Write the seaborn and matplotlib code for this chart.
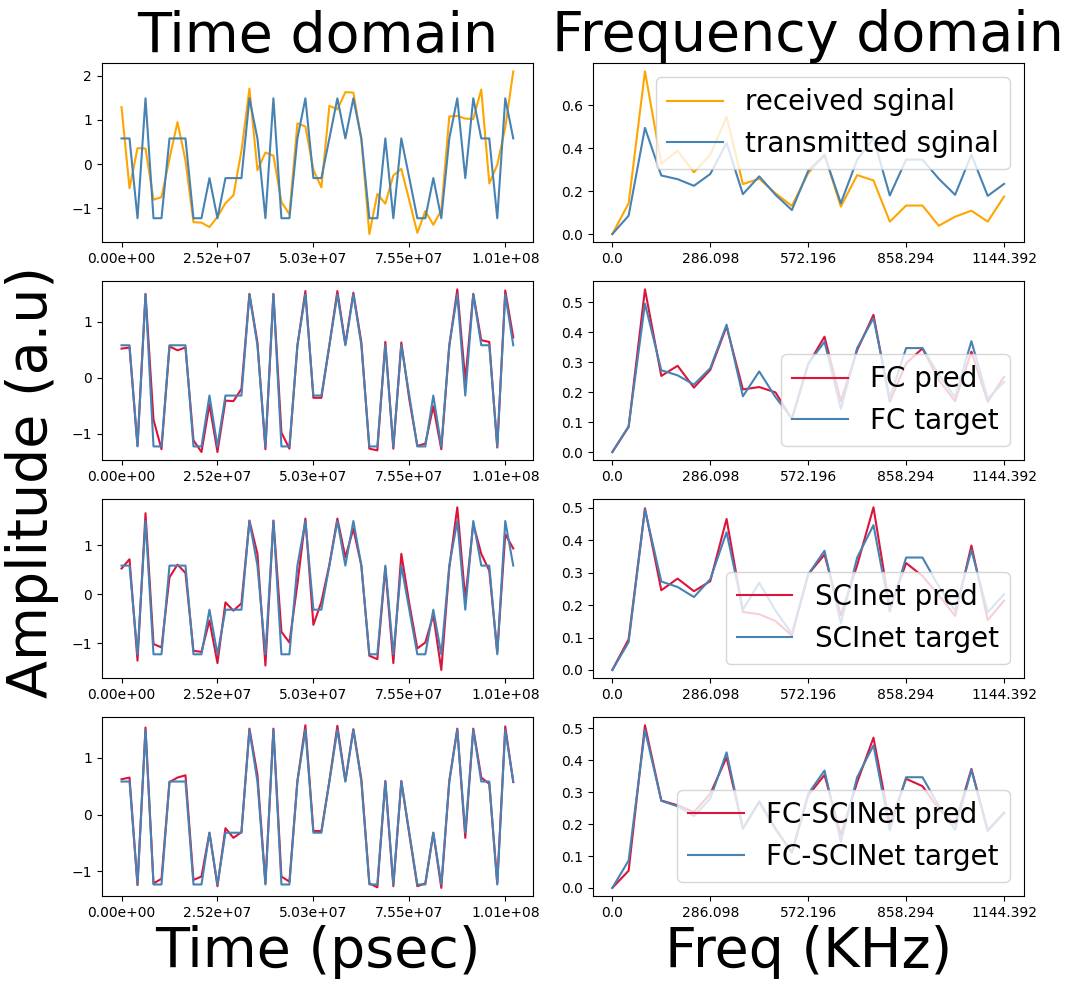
import matplotlib
matplotlib.use("Agg")
import matplotlib.pyplot as plt
import seaborn as sns
import numpy as np

# time axis (psec) and frequency axis (KHz)
n_time = 50
dt = 2.097e6
n_freq = 25
df = 47.683

t = np.arange(n_time) * dt
f = np.arange(n_freq) * df

# time domain signals
transmitted = [0.58, 0.58, -1.23, 1.49, -1.23, -1.23, 0.58, 0.58, 0.58, -1.23,
               -1.23, -0.32, -1.23, -0.32, -0.32, -0.32, 1.49, 0.58, -1.23, 1.49,
               -1.23, -1.23, 0.58, 1.49, -0.32, -0.32, 0.58, 1.49, 0.58, 1.49,
               0.58, -1.23, -1.23, 0.58, -1.23, 0.58, -0.32, -1.23, -1.23, -0.32,
               -1.23, 0.58, 1.49, -0.32, 1.49, 0.58, 0.58, -1.23, 1.49, 0.58]
received = [1.29, -0.55, 0.36, 0.35, -0.81, -0.75, 0.12, 0.95, 0.08, -1.32,
            -1.33, -1.43, -1.2, -0.89, -0.71, 0.3, 1.71, -0.14, 0.26, 0.19,
            -0.86, -1.14, 0.92, 0.85, -0.13, -0.53, 1.32, 1.24, 1.63, 1.62,
            0.56, -1.59, -0.68, -0.9, -0.26, -0.11, -0.83, -1.56, -1.07, -1.38,
            -1.05, 1.08, 1.09, 1.03, 1.02, 1.69, -0.44, -0.02, 0.83, 2.1]
fc_pred = [0.52, 0.54, -1.22, 1.5, -0.75, -1.28, 0.56, 0.49, 0.54, -1.12,
           -1.33, -0.48, -1.33, -0.41, -0.42, -0.2, 1.5, 0.63, -1.28, 1.5,
           -0.98, -1.27, 0.57, 1.55, -0.36, -0.36, 0.58, 1.55, 0.6, 1.52,
           0.63, -1.27, -1.3, 0.64, -1.27, 0.63, -0.39, -1.22, -1.18, -0.51,
           -1.28, 0.57, 1.58, -0.05, 1.5, 0.67, 0.64, -1.25, 1.56, 0.72]
scinet_pred = [0.52, 0.71, -1.36, 1.65, -1.02, -1.09, 0.34, 0.6, 0.43, -1.16,
               -1.18, -0.54, -1.41, -0.17, -0.34, -0.19, 1.5, 0.82, -1.46, 1.5,
               -0.77, -0.99, 0.2, 1.54, -0.63, -0.16, 0.6, 1.54, 0.75, 1.33,
               0.58, -1.26, -1.33, 0.54, -1.41, 0.82, -0.2, -1.11, -0.99, -0.43,
               -1.55, 0.54, 1.77, -0.1, 1.43, 0.82, 0.48, -1.19, 1.22, 0.93]
fcscinet_pred = [0.62, 0.65, -1.24, 1.53, -1.21, -1.13, 0.57, 0.65, 0.69, -1.15,
                 -1.09, -0.32, -1.26, -0.24, -0.41, -0.31, 1.51, 0.7, -1.21, 1.51,
                 -1.09, -1.18, 0.59, 1.57, -0.29, -0.29, 0.59, 1.56, 0.59, 1.5,
                 0.62, -1.21, -1.28, 0.59, -1.26, 0.59, -0.35, -1.26, -1.21, -0.32,
                 -1.29, 0.59, 1.51, -0.41, 1.51, 0.65, 0.54, -1.21, 1.55, 0.57]

# frequency domain magnitudes
transmitted_f = [0.0, 0.086, 0.495, 0.273, 0.256, 0.225, 0.28, 0.425, 0.186, 0.269,
                 0.183, 0.112, 0.295, 0.368, 0.144, 0.347, 0.447, 0.18, 0.347, 0.347,
                 0.258, 0.183, 0.37, 0.178, 0.234]
received_f = [0.0, 0.144, 0.758, 0.328, 0.388, 0.288, 0.37, 0.547, 0.233, 0.258,
              0.19, 0.131, 0.284, 0.37, 0.128, 0.275, 0.25, 0.058, 0.133, 0.133,
              0.039, 0.081, 0.109, 0.058, 0.175]
fc_pred_f = [0.0, 0.084, 0.543, 0.254, 0.288, 0.215, 0.274, 0.419, 0.209, 0.217,
             0.199, 0.11, 0.293, 0.385, 0.17, 0.34, 0.458, 0.168, 0.296, 0.346,
             0.24, 0.17, 0.335, 0.168, 0.251]
scinet_pred_f = [0.0, 0.095, 0.499, 0.246, 0.282, 0.243, 0.274, 0.466, 0.179, 0.172,
                 0.151, 0.106, 0.295, 0.356, 0.169, 0.323, 0.502, 0.19, 0.33, 0.29,
                 0.231, 0.167, 0.384, 0.154, 0.214]
fcscinet_pred_f = [0.0, 0.054, 0.51, 0.274, 0.259, 0.238, 0.295, 0.409, 0.186, 0.271,
                   0.186, 0.111, 0.29, 0.354, 0.166, 0.331, 0.471, 0.2, 0.342, 0.319,
                   0.248, 0.2, 0.373, 0.181, 0.236]

models = ["FC", "SCInet", "FC-SCINet"]
preds_t = [fc_pred, scinet_pred, fcscinet_pred]
preds_f = [fc_pred_f, scinet_pred_f, fcscinet_pred_f]

fig, axes = plt.subplots(4, 2, figsize=(10.73, 9.89), dpi=100)
plt.subplots_adjust(left=0.095, right=0.954, top=0.936, bottom=0.094,
                    wspace=0.139, hspace=0.218)

# first row: received vs transmitted
sns.lineplot(x=t, y=received, ax=axes[0, 0], color="orange")
sns.lineplot(x=t, y=transmitted, ax=axes[0, 0], color="steelblue")
sns.lineplot(x=f, y=received_f, ax=axes[0, 1], color="orange", label="received sginal")
sns.lineplot(x=f, y=transmitted_f, ax=axes[0, 1], color="steelblue", label="transmitted sginal")
axes[0, 1].legend(fontsize=20, loc="upper right")

for i, name in enumerate(models):
    row = i + 1
    sns.lineplot(x=t, y=preds_t[i], ax=axes[row, 0], color="crimson")
    sns.lineplot(x=t, y=transmitted, ax=axes[row, 0], color="steelblue")
    sns.lineplot(x=f, y=preds_f[i], ax=axes[row, 1], color="crimson", label=f"{name} pred")
    sns.lineplot(x=f, y=transmitted_f, ax=axes[row, 1], color="steelblue", label=f"{name} target")
    axes[row, 1].legend(fontsize=20, loc="lower right")

for ax in axes[:, 0]:
    ax.set_xticks(t[::12])
    ax.set_xticklabels([f"{v:.2e}" for v in t[::12]])
for ax in axes[:, 1]:
    ax.set_xticks(f[::6])
    ax.set_xticklabels([str(round(v, 3)) for v in f[::6]])

axes[0, 0].set_title("Time domain", fontsize=40, pad=4)
axes[0, 1].set_title("Frequency domain", fontsize=40, pad=4)
axes[3, 0].set_xlabel("Time (psec)", fontsize=40)
axes[3, 1].set_xlabel("Freq (KHz)", fontsize=40)
fig.text(0.03, 0.513, "Amplitude (a.u)", fontsize=40, rotation=90,
         ha="center", va="center")

plt.savefig("out.png", dpi=100)
